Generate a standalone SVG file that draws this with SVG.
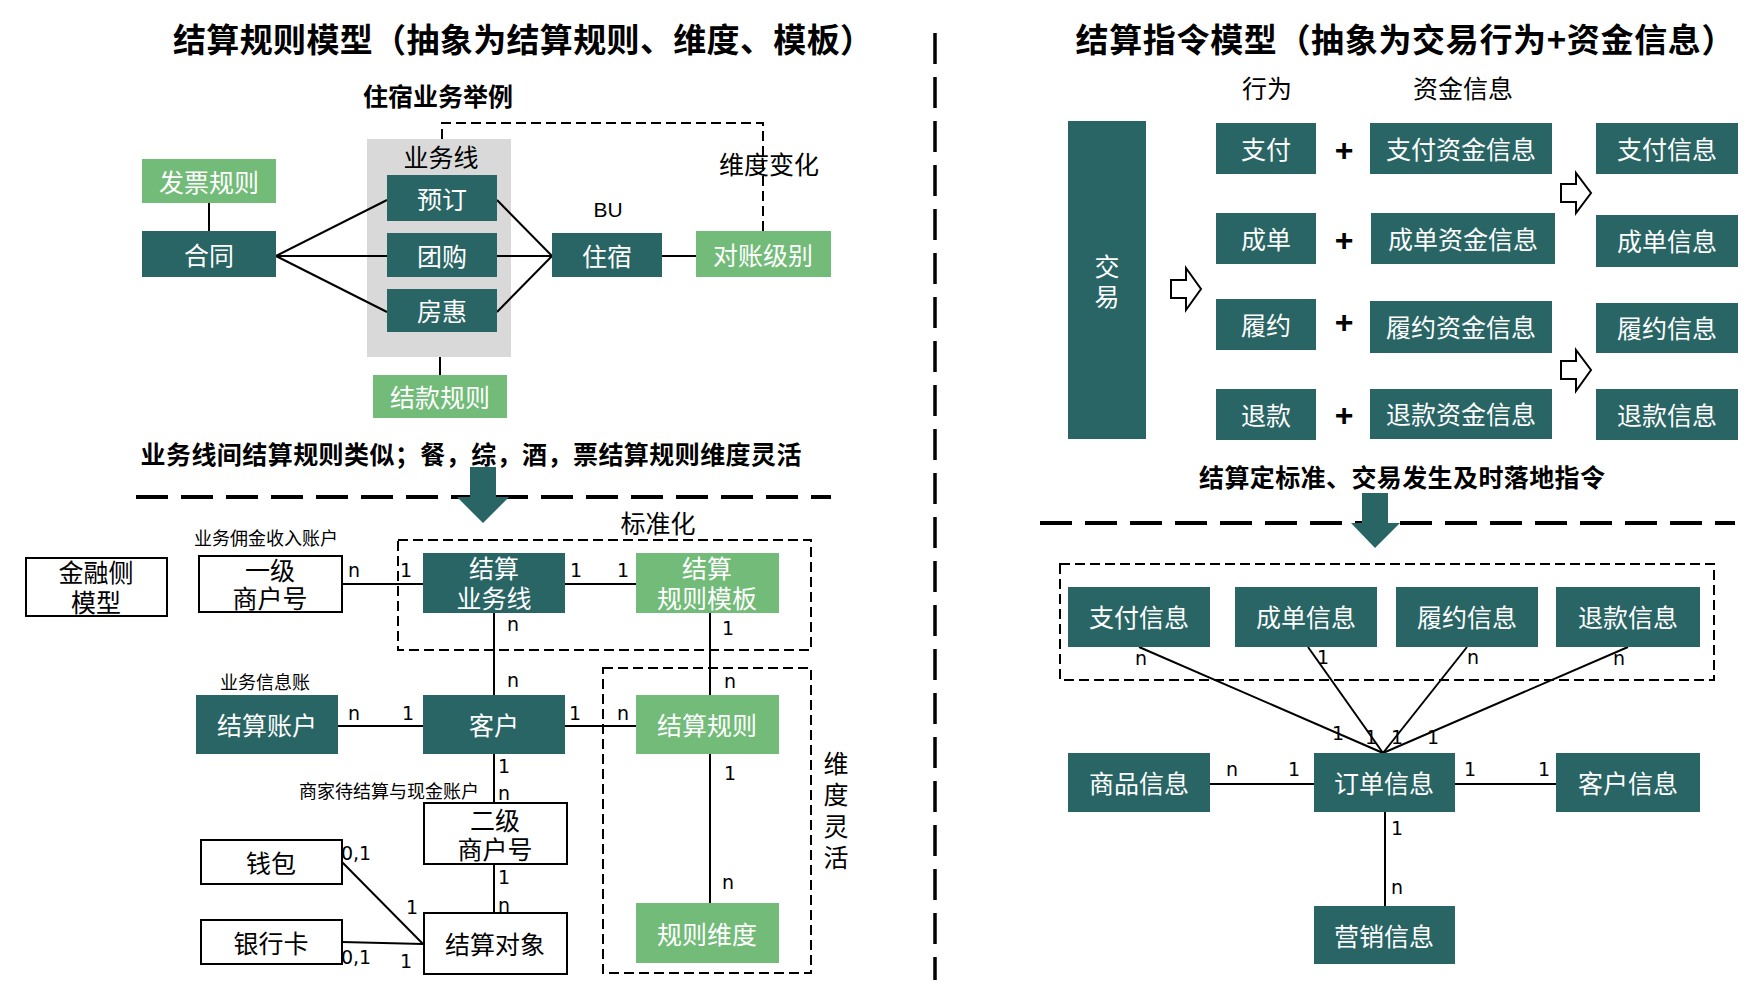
<svg xmlns="http://www.w3.org/2000/svg" width="1763" height="998" viewBox="0 0 1763 998">
<style>
.t{fill:#296565}
.g{fill:#72bb78}
.gr{fill:#d9d9d9}
.w{fill:#fff;stroke:#000;stroke-width:2}
.lt{font-family:"Noto Sans CJK SC","Noto Sans",sans-serif;font-size:25px;fill:#fff;text-anchor:middle;dominant-baseline:central}
.bt{font-family:"Noto Sans CJK SC","Noto Sans",sans-serif;font-size:25px;fill:#000;text-anchor:middle;dominant-baseline:central}
.st{font-family:"Noto Sans CJK SC","Noto Sans",sans-serif;font-size:18px;fill:#000;text-anchor:middle;dominant-baseline:central}
.hd{font-family:"Noto Sans CJK SC","Noto Sans",sans-serif;font-weight:700;fill:#000;text-anchor:middle;dominant-baseline:central}
.lbl{font-family:"DejaVu Sans",sans-serif;font-size:19px;fill:#000;text-anchor:middle;dominant-baseline:central}
.ln{stroke:#000;stroke-width:2;fill:none}
.db{stroke:#000;stroke-width:2;stroke-dasharray:10 5;fill:none}
.sep{stroke:#000;stroke-width:4;stroke-dasharray:32 13;fill:none}
.ha{fill:#fff;stroke:#000;stroke-width:2}
</style>
<rect width="1763" height="998" fill="#fff"/>

<!-- headings -->
<g id="headings">
<text class="hd" x="523" y="38" font-size="33" textLength="700">结算规则模型（抽象为结算规则、维度、模板）</text>
<text class="hd" x="438" y="95" font-size="25">住宿业务举例</text>
<text class="hd" x="471" y="453" font-size="25" textLength="661">业务线间结算规则类似；餐，综，酒，票结算规则维度灵活</text>
<text class="hd" x="1405" y="38" font-size="33" textLength="659">结算指令模型（抽象为交易行为+资金信息）</text>
<text class="hd" x="1402" y="476" font-size="25" textLength="406">结算定标准、交易发生及时落地指令</text>
<text class="bt" x="1267" y="87">行为</text>
<text class="bt" x="1463" y="87">资金信息</text>
<text class="bt" x="769" y="163">维度变化</text>
<text x="608" y="209" font-family="Liberation Sans, sans-serif" font-size="21" text-anchor="middle" dominant-baseline="central">BU</text>
<text class="bt" x="658" y="522">标准化</text>
<text class="st" x="266" y="537">业务佣金收入账户</text>
<text class="st" x="265" y="681">业务信息账</text>
<text class="st" x="389" y="790">商家待结算与现金账户</text>
<text class="bt" font-size="26" x="836" y="762"><tspan x="836" y="762">维</tspan><tspan x="836" y="793">度</tspan><tspan x="836" y="825">灵</tspan><tspan x="836" y="856">活</tspan></text>
</g>

<!-- separators and big arrows -->
<g id="separators">
<line class="sep" x1="136" y1="497" x2="831" y2="497"/>
<line class="sep" x1="1040" y1="523" x2="1735" y2="523"/>
<line x1="935" y1="33" x2="935" y2="980" stroke="#000" stroke-width="3.5" stroke-dasharray="31 13"/>
<path class="t" d="M470,467 H496 V497 H509 L483,523 L457,497 H470 Z"/>
<path class="t" d="M1362,493 H1388 V523 H1400 L1375,548 L1351,523 H1362 Z"/>
<path class="ha" d="M1171,280 H1186 V268 L1201,289 L1186,310 V298 H1171 Z"/>
<path class="ha" d="M1561,184 H1576 V173 L1591,193 L1576,213 V202 H1561 Z"/>
<path class="ha" d="M1561,361 H1576 V350 L1591,370 L1576,391 V379 H1561 Z"/>
</g>

<!-- group frames -->
<g id="frames">
<rect class="gr" x="367" y="139" width="144" height="218"/>
<text class="bt" x="441" y="156" font-size="21">业务线</text>
<rect class="db" x="398" y="540" width="413" height="110"/>
<rect class="db" x="603" y="668" width="208" height="305"/>
<rect class="db" x="1060" y="564" width="654" height="116"/>
</g>

<!-- connectors -->
<g id="connectors">
<polyline class="ln" points="442,139 442,123 763,123 763,231" stroke-dasharray="10 5"/>
<line class="ln" x1="209" y1="203" x2="209" y2="231"/>
<line class="ln" x1="276" y1="256" x2="387" y2="200"/>
<line class="ln" x1="276" y1="256" x2="387" y2="256"/>
<line class="ln" x1="276" y1="256" x2="387" y2="312"/>
<line class="ln" x1="497" y1="200" x2="552" y2="256"/>
<line class="ln" x1="497" y1="256" x2="552" y2="256"/>
<line class="ln" x1="497" y1="312" x2="552" y2="256"/>
<line class="ln" x1="662" y1="256" x2="696" y2="256"/>
<line class="ln" x1="440" y1="357" x2="440" y2="375"/>

<line class="ln" x1="342" y1="584" x2="423" y2="584"/>
<line class="ln" x1="565" y1="584" x2="636" y2="584"/>
<line class="ln" x1="494" y1="613" x2="494" y2="695"/>
<line class="ln" x1="710" y1="613" x2="710" y2="695"/>
<line class="ln" x1="338" y1="726" x2="423" y2="726"/>
<line class="ln" x1="565" y1="726" x2="636" y2="726"/>
<line class="ln" x1="494" y1="754" x2="494" y2="803"/>
<line class="ln" x1="494" y1="864" x2="494" y2="913"/>
<line class="ln" x1="710" y1="754" x2="710" y2="903"/>
<line class="ln" x1="342" y1="862" x2="423" y2="944"/>
<line class="ln" x1="342" y1="942" x2="423" y2="944"/>

<line class="ln" x1="1139" y1="647" x2="1383" y2="753"/>
<line class="ln" x1="1308" y1="647" x2="1383" y2="753"/>
<line class="ln" x1="1467" y1="647" x2="1383" y2="753"/>
<line class="ln" x1="1628" y1="647" x2="1383" y2="753"/>
<line class="ln" x1="1210" y1="784" x2="1314" y2="784"/>
<line class="ln" x1="1455" y1="784" x2="1556" y2="784"/>
<line class="ln" x1="1385" y1="812" x2="1385" y2="906"/>

<g class="lbl">
<text x="354" y="570">n</text><text x="406" y="570">1</text>
<text x="576" y="570">1</text><text x="623" y="570">1</text>
<text x="513" y="624">n</text><text x="513" y="680">n</text>
<text x="728" y="628">1</text><text x="730" y="681">n</text>
<text x="354" y="713">n</text><text x="408" y="713">1</text>
<text x="575" y="713">1</text><text x="623" y="713">n</text>
<text x="504" y="766">1</text><text x="504" y="793">n</text>
<text x="504" y="877">1</text><text x="504" y="905">n</text>
<text x="730" y="773">1</text><text x="728" y="882">n</text>
<text x="356" y="853">0,1</text><text x="412" y="907">1</text>
<text x="356" y="957">0,1</text><text x="406" y="961">1</text>

<text x="1141" y="658">n</text><text x="1323" y="657">1</text>
<text x="1473" y="657">n</text><text x="1619" y="658">n</text>
<text x="1338" y="733">1</text><text x="1371" y="737">1</text>
<text x="1397" y="737">1</text><text x="1433" y="737">1</text>
<text x="1232" y="769">n</text><text x="1294" y="769">1</text>
<text x="1470" y="769">1</text><text x="1544" y="769">1</text>
<text x="1397" y="828">1</text><text x="1397" y="887">n</text>
</g>
</g>

<!-- left top nodes -->
<g id="n-fapiao"><rect class="g" x="142" y="159" width="134" height="44"/><text class="lt" x="209" y="181">发票规则</text></g>
<g id="n-hetong"><rect class="t" x="142" y="231" width="134" height="46"/><text class="lt" x="209" y="254">合同</text></g>
<g id="n-yuding"><rect class="t" x="387" y="175" width="110" height="46"/><text class="lt" x="442" y="198">预订</text></g>
<g id="n-tuangou"><rect class="t" x="387" y="233" width="110" height="44"/><text class="lt" x="442" y="255">团购</text></g>
<g id="n-fanghui"><rect class="t" x="387" y="289" width="110" height="43"/><text class="lt" x="442" y="310">房惠</text></g>
<g id="n-zhusu"><rect class="t" x="552" y="233" width="110" height="44"/><text class="lt" x="607" y="255">住宿</text></g>
<g id="n-duizhang"><rect class="g" x="696" y="231" width="135" height="46"/><text class="lt" x="763" y="254">对账级别</text></g>
<g id="n-jiekuan"><rect class="g" x="373" y="375" width="134" height="43"/><text class="lt" x="440" y="396">结款规则</text></g>

<!-- left bottom nodes -->
<g id="n-jinrong"><rect class="w" x="26" y="558" width="141" height="58"/><text class="bt" x="96" y="571"><tspan x="96" y="571">金融侧</tspan><tspan x="96" y="601">模型</tspan></text></g>
<g id="n-yiji"><rect class="w" x="199" y="556" width="143" height="56"/><text class="bt" x="270" y="569"><tspan x="270" y="569">一级</tspan><tspan x="270" y="597">商户号</tspan></text></g>
<g id="n-jsywx"><rect class="t" x="423" y="553" width="142" height="60"/><text class="lt" x="494" y="567"><tspan x="494" y="567">结算</tspan><tspan x="494" y="597">业务线</tspan></text></g>
<g id="n-gzmb"><rect class="g" x="636" y="553" width="143" height="60"/><text class="lt" x="707" y="567"><tspan x="707" y="567">结算</tspan><tspan x="707" y="597">规则模板</tspan></text></g>
<g id="n-jszh"><rect class="t" x="196" y="695" width="142" height="59"/><text class="lt" x="267" y="724">结算账户</text></g>
<g id="n-kehu"><rect class="t" x="423" y="695" width="142" height="59"/><text class="lt" x="494" y="724">客户</text></g>
<g id="n-jsgz"><rect class="g" x="636" y="695" width="143" height="59"/><text class="lt" x="707" y="724">结算规则</text></g>
<g id="n-erji"><rect class="w" x="424" y="803" width="143" height="61"/><text class="bt" x="495" y="819"><tspan x="495" y="819">二级</tspan><tspan x="495" y="848">商户号</tspan></text></g>
<g id="n-qianbao"><rect class="w" x="201" y="840" width="141" height="44"/><text class="bt" x="271" y="862">钱包</text></g>
<g id="n-yhk"><rect class="w" x="201" y="920" width="141" height="44"/><text class="bt" x="271" y="942">银行卡</text></g>
<g id="n-jsdx"><rect class="w" x="424" y="913" width="143" height="61"/><text class="bt" x="495" y="943">结算对象</text></g>
<g id="n-gzwd"><rect class="g" x="636" y="903" width="143" height="60"/><text class="lt" x="707" y="933">规则维度</text></g>

<!-- right top nodes -->
<g id="n-jiaoyi"><rect class="t" x="1068" y="121" width="78" height="318"/><text class="lt" x="1107" y="265"><tspan x="1107" y="265">交</tspan><tspan x="1107" y="295">易</tspan></text></g>
<g id="n-zhifu"><rect class="t" x="1216" y="123" width="100" height="51"/><text class="lt" x="1266" y="148">支付</text></g>
<g id="n-chengdan"><rect class="t" x="1216" y="213" width="100" height="51"/><text class="lt" x="1266" y="238">成单</text></g>
<g id="n-lvyue"><rect class="t" x="1216" y="299" width="100" height="51"/><text class="lt" x="1266" y="324">履约</text></g>
<g id="n-tuikuan"><rect class="t" x="1216" y="389" width="100" height="51"/><text class="lt" x="1266" y="414">退款</text></g>
<g id="plus" font-family="Liberation Sans, sans-serif" font-size="32" font-weight="700" text-anchor="middle" dominant-baseline="central"><text x="1344" y="150">+</text><text x="1344" y="240">+</text><text x="1344" y="322">+</text><text x="1344" y="415">+</text></g>
<g id="n-zfzj"><rect class="t" x="1370" y="123" width="182" height="51"/><text class="lt" x="1461" y="148">支付资金信息</text></g>
<g id="n-cdzj"><rect class="t" x="1371" y="213" width="184" height="51"/><text class="lt" x="1463" y="238">成单资金信息</text></g>
<g id="n-lyzj"><rect class="t" x="1370" y="301" width="182" height="52"/><text class="lt" x="1461" y="326">履约资金信息</text></g>
<g id="n-tkzj"><rect class="t" x="1370" y="389" width="182" height="50"/><text class="lt" x="1461" y="413">退款资金信息</text></g>
<g id="n-zfxx"><rect class="t" x="1596" y="123" width="142" height="51"/><text class="lt" x="1667" y="148">支付信息</text></g>
<g id="n-cdxx"><rect class="t" x="1596" y="215" width="142" height="52"/><text class="lt" x="1667" y="240">成单信息</text></g>
<g id="n-lyxx"><rect class="t" x="1596" y="303" width="142" height="50"/><text class="lt" x="1667" y="327">履约信息</text></g>
<g id="n-tkxx"><rect class="t" x="1596" y="389" width="142" height="51"/><text class="lt" x="1667" y="414">退款信息</text></g>

<!-- right bottom nodes -->
<g id="n-zfxx2"><rect class="t" x="1068" y="587" width="142" height="60"/><text class="lt" x="1139" y="616">支付信息</text></g>
<g id="n-cdxx2"><rect class="t" x="1235" y="587" width="142" height="60"/><text class="lt" x="1306" y="616">成单信息</text></g>
<g id="n-lyxx2"><rect class="t" x="1396" y="587" width="142" height="60"/><text class="lt" x="1467" y="616">履约信息</text></g>
<g id="n-tkxx2"><rect class="t" x="1556" y="587" width="144" height="60"/><text class="lt" x="1628" y="616">退款信息</text></g>
<g id="n-spxx"><rect class="t" x="1068" y="753" width="142" height="59"/><text class="lt" x="1139" y="782">商品信息</text></g>
<g id="n-ddxx"><rect class="t" x="1314" y="753" width="141" height="59"/><text class="lt" x="1384" y="782">订单信息</text></g>
<g id="n-khxx"><rect class="t" x="1556" y="753" width="144" height="59"/><text class="lt" x="1628" y="782">客户信息</text></g>
<g id="n-yxxx"><rect class="t" x="1314" y="906" width="141" height="58"/><text class="lt" x="1384" y="935">营销信息</text></g>
</svg>
